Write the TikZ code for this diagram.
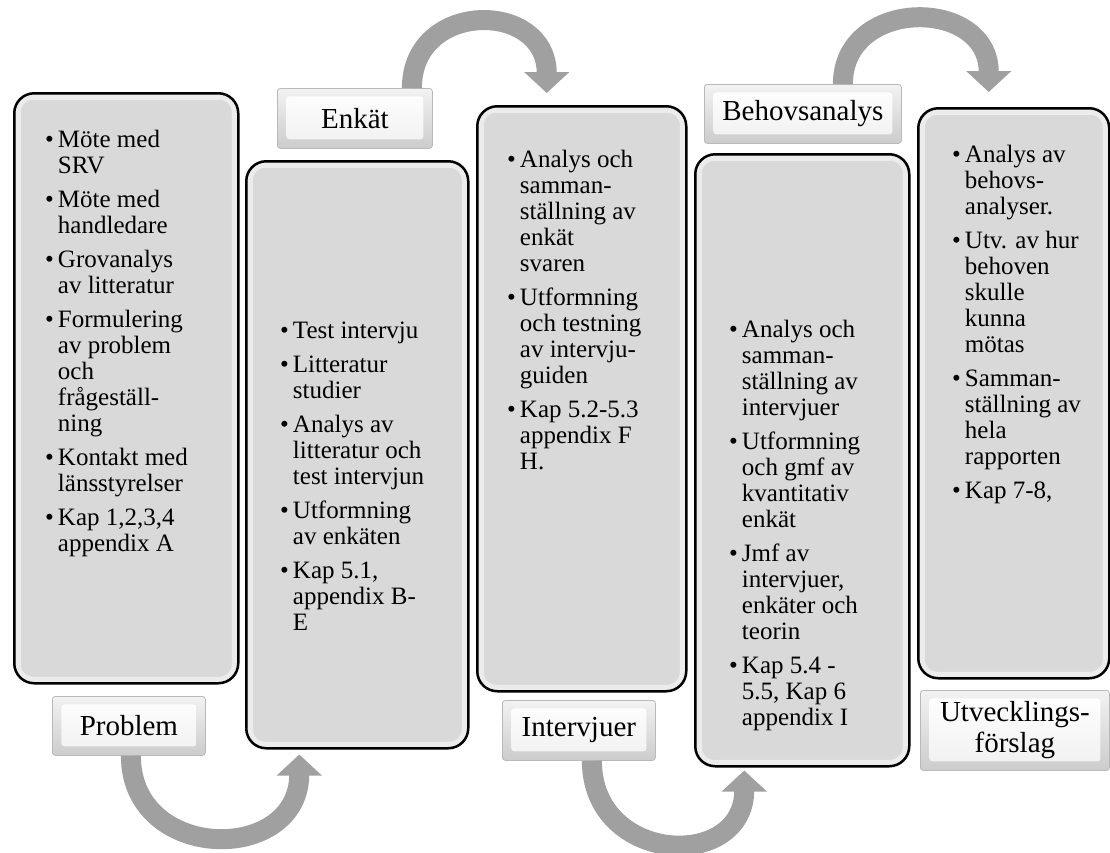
\documentclass[tikz,border=0pt]{standalone}
\usepackage{fontspec}
\setmainfont{Liberation Serif}
\usetikzlibrary{arrows.meta}
\definecolor{boxgrey}{RGB}{217,217,217}
\definecolor{rimgrey}{RGB}{236,236,236}
\definecolor{flowgrey}{RGB}{160,160,160}

\begin{document}
\begin{tikzpicture}[x=1pt, y=1pt,
  phasebox/.style={draw=black, line width=2.5, rounded corners=20, fill=boxgrey, inner sep=0, anchor=north west,
    path picture={\draw[rimgrey, line width=5, rounded corners=15] ([shift={(4,-4)}]path picture bounding box.north west) rectangle ([shift={(-4,4)}]path picture bounding box.south east);}},
  phasetag/.style={draw=gray!55, line width=0.8, rounded corners=3, top color=gray!10, bottom color=gray!40, inner sep=0, anchor=north west, align=center, font=\fontsize{29}{31}\selectfont,
    path picture={\shade[top color=white, bottom color=gray!12] ([shift={(9,-8)}]path picture bounding box.north west) rectangle ([shift={(-9,9)}]path picture bounding box.south east);}},
  phaselist/.style={anchor=north west, inner sep=0, font=\fontsize{25}{26}\selectfont},
  cyclearrow/.style={flowgrey, line width=20, -{Triangle[length=21pt, width=44pt]}}]

\useasboundingbox (0,0) rectangle (1110,-852);

\node[phasebox, minimum width=224, minimum height=590] (problembox) at (13,-92) {};
\node[phasebox, minimum width=222, minimum height=587] (enkatbox) at (245,-160) {};
\node[phasebox, minimum width=209, minimum height=585] (intervjubox) at (476,-105) {};
\node[phasebox, minimum width=214, minimum height=612] (behovbox) at (694,-153) {};
\node[phasebox, minimum width=191, minimum height=570] (forslagbox) at (917,-107) {};

\node[phasetag, minimum width=153, minimum height=59] (problem) at (52,-696) {Problem};
\node[phasetag, minimum width=155, minimum height=60] (enkat) at (277,-88) {Enkät};
\node[phasetag, minimum width=153, minimum height=60] (intervjuer) at (502,-700) {Intervjuer};
\node[phasetag, minimum width=197, minimum height=59] (behovsanalys) at (704,-84) {Behovsanalys};
\node[phasetag, minimum width=189, minimum height=80] (forslag) at (920,-690) {Utvecklings-\\förslag};

\node[phaselist] (problemtext) at ([shift={(32,-37)}]problembox.north west) {\begin{tabular}{@{}l@{\hspace{4pt}}l@{}}
\textbullet & Möte med\\ & SRV\\[8pt]
\textbullet & Möte med\\ & handledare\\[8pt]
\textbullet & Grovanalys\\ & av litteratur\\[8pt]
\textbullet & Formulering\\ & av problem\\ & och\\ & frågeställ-\\ & ning\\[8pt]
\textbullet & Kontakt med\\ & länsstyrelser\\[8pt]
\textbullet & Kap 1,2,3,4\\ & appendix A
\end{tabular}};

\node[phaselist] (enkattext) at ([shift={(35,-160)}]enkatbox.north west) {\begin{tabular}{@{}l@{\hspace{4pt}}l@{}}
\textbullet & Test intervju\\[8pt]
\textbullet & Litteratur\\ & studier\\[8pt]
\textbullet & Analys av\\ & litteratur och\\ & test intervjun\\[8pt]
\textbullet & Utformning\\ & av enkäten\\[8pt]
\textbullet & Kap 5.1,\\ & appendix B-\\ & E
\end{tabular}};

\node[phaselist] (intervjutext) at ([shift={(31,-44)}]intervjubox.north west) {\begin{tabular}{@{}l@{\hspace{4pt}}l@{}}
\textbullet & Analys och\\ & samman-\\ & ställning av\\ & enkät\\ & svaren\\[8pt]
\textbullet & Utformning\\ & och testning\\ & av intervju-\\ & guiden\\[8pt]
\textbullet & Kap 5.2-5.3\\ & appendix F\\ & H.
\end{tabular}};

\node[phaselist] (behovtext) at ([shift={(35,-166)}]behovbox.north west) {\begin{tabular}{@{}l@{\hspace{4pt}}l@{}}
\textbullet & Analys och\\ & samman-\\ & ställning av\\ & intervjuer\\[8pt]
\textbullet & Utformning\\ & och gmf av\\ & kvantitativ\\ & enkät\\[8pt]
\textbullet & Jmf av\\ & intervjuer,\\ & enkäter och\\ & teorin\\[8pt]
\textbullet & Kap 5.4 -\\ & 5.5, Kap 6\\ & appendix I
\end{tabular}};

\node[phaselist] (forslagtext) at ([shift={(35,-37)}]forslagbox.north west) {\begin{tabular}{@{}l@{\hspace{4pt}}l@{}}
\textbullet & Analys av\\ & behovs-\\ & analyser.\\[8pt]
\textbullet & Utv. av hur\\ & behoven\\ & skulle\\ & kunna\\ & mötas\\[8pt]
\textbullet & Samman-\\ & ställning av\\ & hela\\ & rapporten\\[8pt]
\textbullet & Kap 7-8,
\end{tabular}};

\draw[cyclearrow] ([xshift=2]problem.south) .. controls +(0,-107) and +(0,-110) .. ([xshift=-58,yshift=-5]enkatbox.south);
\draw[cyclearrow] ([xshift=57]enkat.north) .. controls +(0,88) and +(0,93) .. ([xshift=-35,yshift=12]intervjubox.north);
\draw[cyclearrow] ([xshift=13]intervjuer.south) .. controls +(0,-104) and +(0,-101) .. ([xshift=-58,yshift=-3]behovbox.south);
\draw[cyclearrow] ([xshift=40]behovsanalys.north) .. controls +(0,87) and +(0,95) .. ([xshift=-25,yshift=15]forslagbox.north);
\end{tikzpicture}
\end{document}
